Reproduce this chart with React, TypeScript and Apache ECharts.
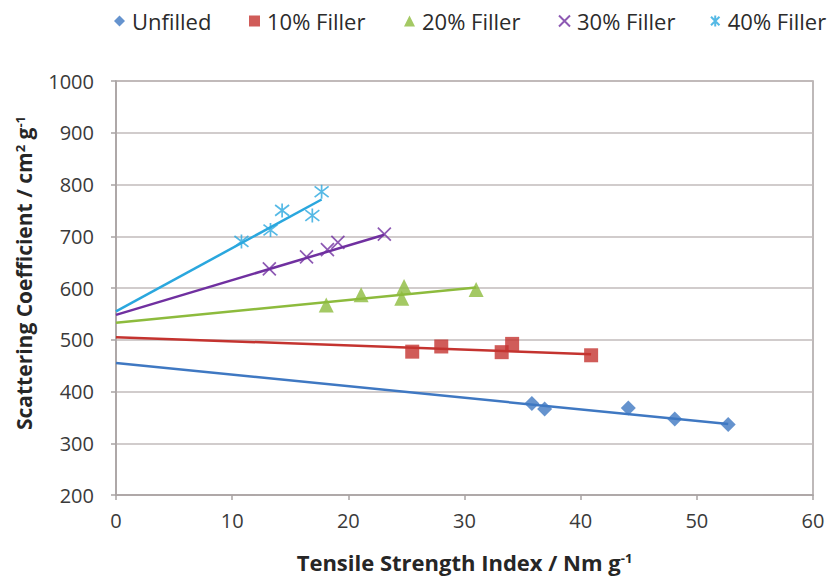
import React, { useEffect, useRef } from "react";
import * as echarts from "echarts";

// Measured points: [tensile strength index, scattering coefficient]
const unfilled: number[][] = [
  [35.8, 377], [36.9, 366], [44.1, 368], [48.1, 347], [52.7, 336],
];
const filler10: number[][] = [
  [25.5, 477], [28.0, 487], [33.2, 476], [34.1, 492], [40.9, 470],
];
const filler20: number[][] = [
  [18.1, 567], [21.1, 587], [24.6, 580], [24.8, 603], [31.0, 597],
];
const filler30: number[][] = [
  [13.2, 637], [16.4, 660], [18.2, 674], [19.1, 688], [23.1, 704],
];
const filler40: number[][] = [
  [10.8, 690], [13.3, 712], [14.3, 750], [16.9, 740], [17.7, 786],
];

// Linear trend lines, from the intercept to the last measured point
const unfilledTrend: number[][] = [[0, 455], [52.7, 337]];
const filler10Trend: number[][] = [[0, 505], [40.9, 472]];
const filler20Trend: number[][] = [[0, 533], [31.0, 601]];
const filler30Trend: number[][] = [[0, 548], [23.1, 703]];
const filler40Trend: number[][] = [[0, 555], [17.7, 771]];

const seriesNames = ["Unfilled", "10% Filler", "20% Filler", "30% Filler", "40% Filler"];
const xTicks = { min: 0, max: 60, interval: 10 };
const yTicks = { min: 200, max: 1000, interval: 100 };

const FONT = "'Open Sans', Lato, sans-serif";
const colors = ["#3f78c2", "#c4332f", "#8dbb3d", "#7030a0", "#2aa7de"];

const X_MARK = "path://M0,0L10,10M10,0L0,10";
const STAR_MARK = "path://M0,0L10,10M10,0L0,10M5,-1.5L5,11.5";

export default function App() {
  const ref = useRef<HTMLDivElement>(null);

  useEffect(() => {
    if (!ref.current) return;
    const chart = echarts.init(ref.current, undefined, { renderer: "svg" });

    const pointSets = [unfilled, filler10, filler20, filler30, filler40];
    const trendSets = [unfilledTrend, filler10Trend, filler20Trend, filler30Trend, filler40Trend];
    const symbols = ["diamond", "rect", "triangle", X_MARK, STAR_MARK];
    const sizes = [15, 14, 15, 13, 14];
    const legendLeft = [109, 244, 399, 553, 705];

    const trendSeries = trendSets.map((d, i) => ({
      name: seriesNames[i] + " trend",
      type: "line",
      data: d,
      showSymbol: false,
      symbol: "none",
      silent: true,
      z: 2,
      lineStyle: { color: colors[i], width: 2.5 },
    }));

    const pointSeries = pointSets.map((d, i) => {
      const stroked = i >= 3;
      return {
        name: seriesNames[i],
        type: "scatter",
        data: d,
        symbol: symbols[i],
        symbolSize: sizes[i],
        silent: true,
        z: 3,
        itemStyle: stroked
          ? { color: "rgba(0,0,0,0)", borderColor: colors[i], borderWidth: 1.7 }
          : { color: colors[i] },
      };
    });

    const legends = seriesNames.map((n, i) => ({
      data: [n],
      left: legendLeft[i],
      top: 5,
      itemWidth: 11,
      itemHeight: 11,
      itemGap: 0,
      selectedMode: false,
      textStyle: {
        fontFamily: FONT,
        fontSize: 22,
        lineHeight: 22,
        color: "#2b2b2b",
        padding: [0, 0, 0, 2],
      },
    }));

    const axisLabel = { fontFamily: FONT, fontSize: 20, color: "#3a3a3a" };
    const axisLine = { show: true, lineStyle: { color: "#a9a3a3", width: 1.5 } };
    const tick = { show: true, length: 5, lineStyle: { color: "#a9a3a3", width: 1.5 } };
    const titleStyle = (size: number, padding: number[]) => ({
      fontFamily: FONT,
      fontSize: size,
      fontWeight: "bold",
      color: "#262626",
      padding,
      rich: {
        sup: {
          fontFamily: FONT,
          fontSize: Math.round(size * 0.6),
          fontWeight: "bold",
          verticalAlign: "top",
          color: "#262626",
        },
      },
    });

    chart.setOption({
      animation: false,
      backgroundColor: "#ffffff",
      legend: legends,
      grid: {
        left: 116,
        right: 18,
        top: 81,
        bottom: 81,
        containLabel: false,
        outerBoundsMode: "none",
        show: true,
        borderColor: "#a9a3a3",
        borderWidth: 1.5,
      },
      xAxis: {
        type: "value",
        ...xTicks,
        name: "Tensile Strength Index / Nm g{sup|-1}",
        nameLocation: "middle",
        nameGap: 56,
        nameTextStyle: titleStyle(22, [0, 0, 0, 0]),
        axisLine,
        axisTick: tick,
        axisLabel: { ...axisLabel, margin: 15, formatter: (v: number) => String(v) },
        splitLine: { show: false },
      },
      yAxis: {
        type: "value",
        ...yTicks,
        name: "Scattering Coefficient / cm{sup|2} g{sup|-1}",
        nameLocation: "middle",
        nameGap: 82,
        nameTextStyle: titleStyle(21, [0, 0, 0, 30]),
        axisLine,
        axisTick: tick,
        axisLabel: { ...axisLabel, margin: 22, formatter: (v: number) => String(v) },
        splitLine: { show: true, lineStyle: { color: "#c2bbbb", width: 1.5 } },
      },
      series: [...trendSeries, ...pointSeries],
    });

    return () => chart.dispose();
  }, []);

  return (
    <div
      ref={ref}
      style={{ position: "fixed", left: 0, top: 0, width: 831, height: 576, background: "#fff" }}
    />
  );
}
